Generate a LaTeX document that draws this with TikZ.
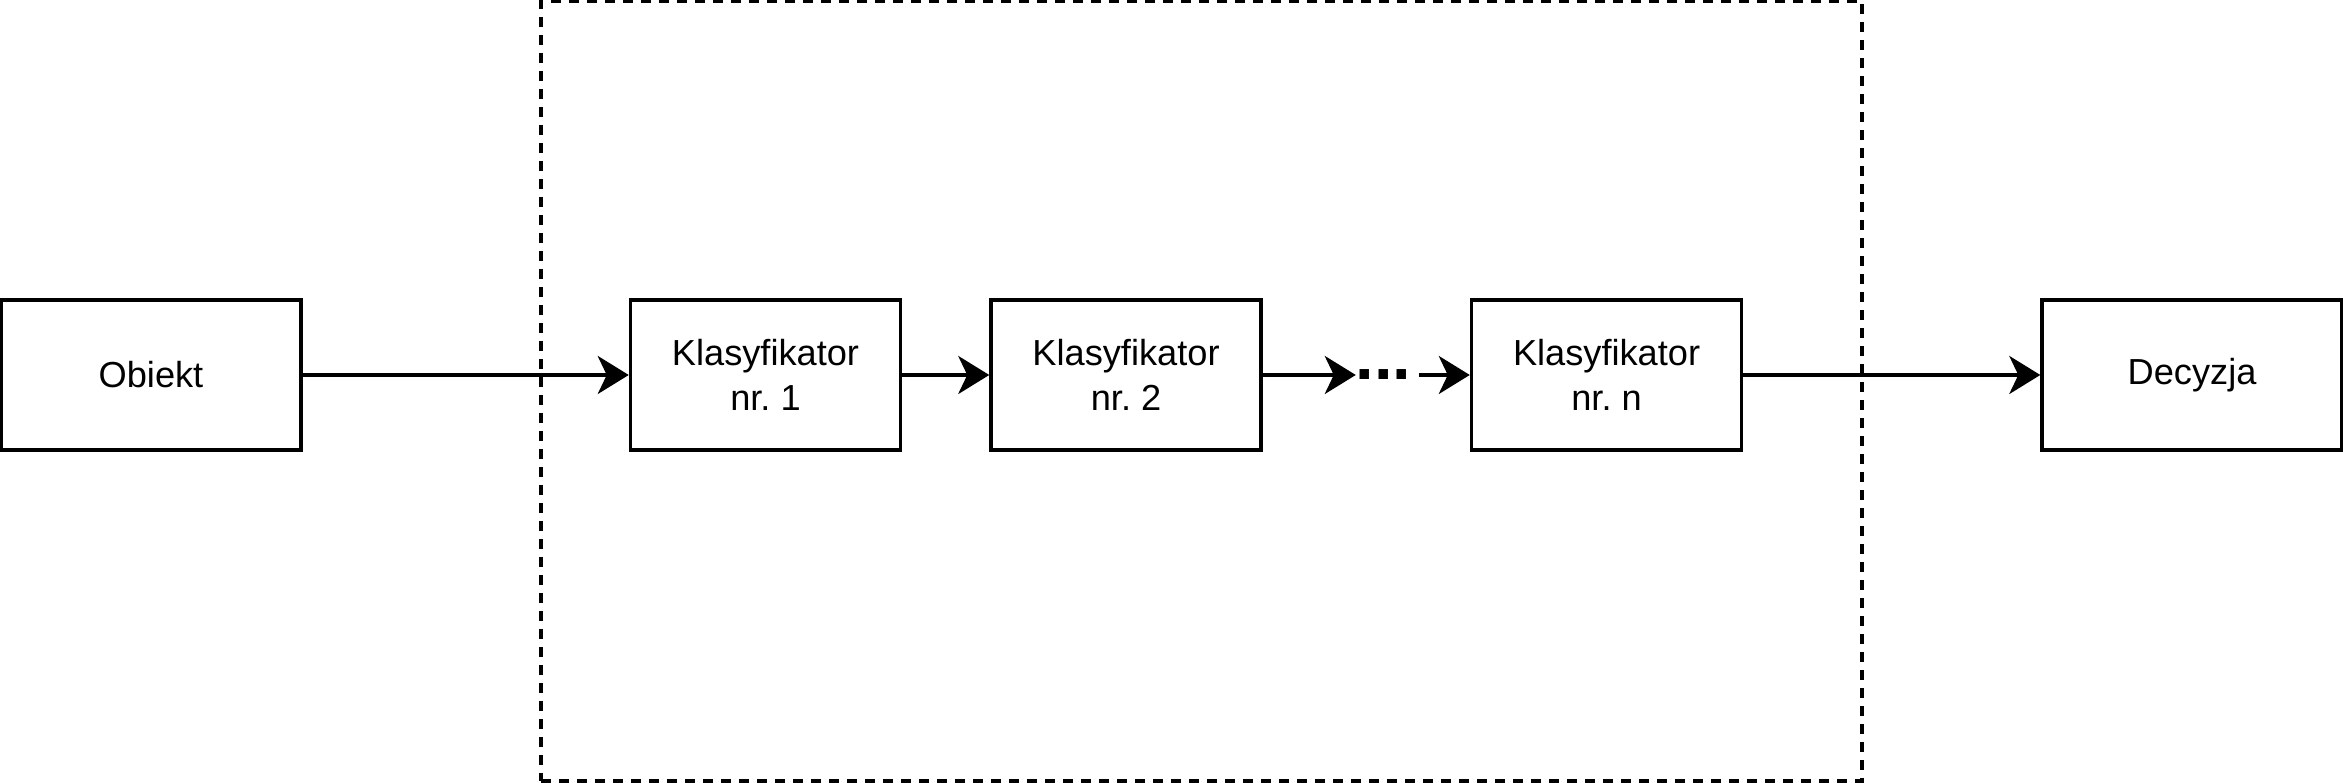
\documentclass[tikz,border=0pt]{standalone}
\usepackage{fontspec}
\setmainfont{Liberation Sans}
\usetikzlibrary{arrows.meta, positioning}

\begin{document}
\begin{tikzpicture}[
    block/.style={rectangle, draw, line width=1pt, minimum width=2.7cm, minimum height=1.5cm, align=center, font=\fontsize{10.3}{13}\selectfont},
    wide/.style={block, minimum width=3.0cm},
    group/.style={rectangle, draw, line width=1pt, dash pattern=on 1mm off 0.8mm, minimum width=13.21cm, minimum height=7.8cm},
    dots/.style={inner sep=0pt, outer sep=0pt, font=\fontsize{19}{19}\selectfont\bfseries},
    arrow/.style={-{Stealth[length=3.1mm, width=3.8mm, inset=0.9mm]}, line width=1pt}
]
\useasboundingbox (0,-4.08) rectangle (23.43,3.75);

% Ensemble
\node[group] (ensemble) at (12.015,-0.16) {};

% Blocks
\node[wide] (obiekt) at (1.51,0) {Obiekt};
\node[block, right=3.26cm of obiekt] (klas1) {Klasyfikator\\nr.\ 1};
\node[block, right=0.87cm of klas1] (klas2) {Klasyfikator\\nr.\ 2};
\node[dots, right=0.93cm of klas2] (more) {...};
\node[block, right=2.07cm of klas2] (klasn) {Klasyfikator\\nr.\ n};
\node[wide, right=2.97cm of klasn] (decyzja) {Decyzja};

% Arrows
\draw[arrow] (obiekt.east) -- (klas1.west);
\draw[arrow] (klas1.east) -- (klas2.west);
\draw[arrow] (klas2.east) -- (more.west);
\draw[arrow, shorten <=0.08cm] (more.east) -- (klasn.west);
\draw[arrow] (klasn.east) -- (decyzja.west);

\end{tikzpicture}
\end{document}
